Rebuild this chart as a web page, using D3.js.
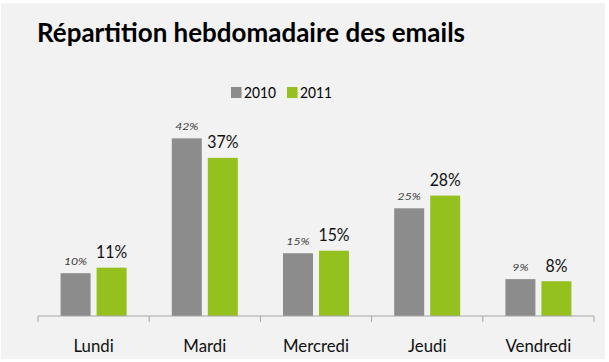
<!DOCTYPE html>
<html><head><meta charset="utf-8">
<script src="https://cdn.jsdelivr.net/npm/d3@7"></script>
<style>html,body{margin:0;padding:0;background:#fff;}svg{display:block;}</style>
</head><body>
<svg id="c" width="609" height="362"></svg>
<script>
const categories = ["Lundi", "Mardi", "Mercredi", "Jeudi", "Vendredi"];
const series = ["2010", "2011"];
const values2010 = [10.1, 41.9, 14.8, 25.4, 8.7];
const values2011 = [11.4, 37.3, 15.4, 28.4, 8.2];
const labels2010 = ["10%", "42%", "15%", "25%", "9%"];
const labels2011 = ["11%", "37%", "15%", "28%", "8%"];
const colors = ["#8c8c8c", "#95c11f"];
const title = "Répartition hebdomadaire des emails";

const svg = d3.select("#c");
const font = "Lato, 'Open Sans', sans-serif";

// width factor so that a sample string at a size gets the wanted width
function widthFactor(sample, size, want, italic) {
  const t = svg.append("text").attr("font-family", font).attr("font-size", size)
    .attr("font-style", italic ? "italic" : "normal").text(sample);
  const w = t.node().getComputedTextLength();
  t.remove();
  return want / w;
}
// squeeze each text of a selection by factor k
function squeeze(sel, k) {
  sel.each(function() {
    const w = this.getComputedTextLength();
    d3.select(this).attr("textLength", w * k).attr("lengthAdjust", "spacingAndGlyphs");
  });
}
const catSize = 18, greenSize = 16.8, graySize = 10.4, legSize = 15.4;
const catK = widthFactor("LundiMardiMercrediJeudiVendredi", catSize, 39.7 + 42.7 + 67.4 + 37.7 + 65.7);
const greenK = widthFactor("11%37%", greenSize, 30.5 + 31.6);
const grayK = widthFactor("10%", graySize, 23.3, true);
const legK = widthFactor("2010", legSize, 32);

svg.append("rect").attr("x", 1).attr("y", 3).attr("width", 604).attr("height", 356).attr("fill", "#f2f2f2");

svg.append("text").attr("x", 37).attr("y", 41.5)
  .attr("font-family", font).attr("font-weight", 700).attr("font-size", 27)
  .attr("textLength", 428).attr("lengthAdjust", "spacingAndGlyphs")
  .attr("fill", "#000").text(title);

const x = d3.scaleBand().domain(categories).range([38, 594]).paddingInner(0).paddingOuter(0);
const y = d3.scaleLinear().domain([0, 45]).range([316, 125.2]);
const barW = 30, gap = 6;

// legend
const leg = svg.append("g");
series.forEach((s, i) => {
  const lx = 231 + i * 56;
  leg.append("rect").attr("x", lx).attr("y", 87).attr("width", 10.5).attr("height", 11).attr("fill", colors[i]);
  leg.append("text").attr("class", "legt").attr("x", lx + 13).attr("y", 98).attr("font-family", font)
    .attr("font-size", legSize).attr("fill", "#000").text(s);
});
squeeze(leg.selectAll(".legt"), legK);

const data = categories.map((c, i) => ({c, v: [values2010[i], values2011[i]], l: [labels2010[i], labels2011[i]]}));

data.forEach(d => {
  const cx = x(d.c) + x.bandwidth() / 2;
  const x0 = cx - gap / 2 - barW, x1 = cx + gap / 2;
  [x0, x1].forEach((bx, i) => {
    svg.append("rect").attr("x", bx).attr("y", y(d.v[i])).attr("width", barW)
      .attr("height", y(0) - y(d.v[i])).attr("fill", colors[i]);
  });
  svg.append("text").attr("class", "lg").attr("x", x0 + barW / 2).attr("y", y(d.v[0]) - 8)
    .attr("text-anchor", "middle").attr("font-family", font).attr("font-style", "italic")
    .attr("font-size", graySize).attr("fill", "#404040").text(d.l[0]);
  svg.append("text").attr("class", "lv").attr("x", x1 + barW / 2).attr("y", y(d.v[1]) - 9.5)
    .attr("text-anchor", "middle").attr("font-family", font)
    .attr("font-size", greenSize).attr("fill", "#111").text(d.l[1]);
});
squeeze(svg.selectAll(".lg"), grayK);
squeeze(svg.selectAll(".lv"), greenK);

// axis
const axis = d3.axisBottom(x).tickSize(0).tickPadding(0);
const ag = svg.append("g").attr("transform", "translate(0,316)").call(axis);
ag.select(".domain").attr("stroke", "#a6a6a6").attr("d", "M38,0H594");
ag.selectAll("text").attr("font-family", font).attr("font-size", catSize)
  .attr("fill", "#111").attr("dy", null).attr("y", 36);
squeeze(ag.selectAll(".tick text"), catK);
const bounds = categories.map(c => x(c)).concat([x.range()[1]]);
ag.selectAll(".bnd").data(bounds).enter().append("line").attr("class", "bnd")
  .attr("x1", d => d).attr("x2", d => d).attr("y1", 0).attr("y2", 6).attr("stroke", "#a6a6a6");
</script>
</body></html>
